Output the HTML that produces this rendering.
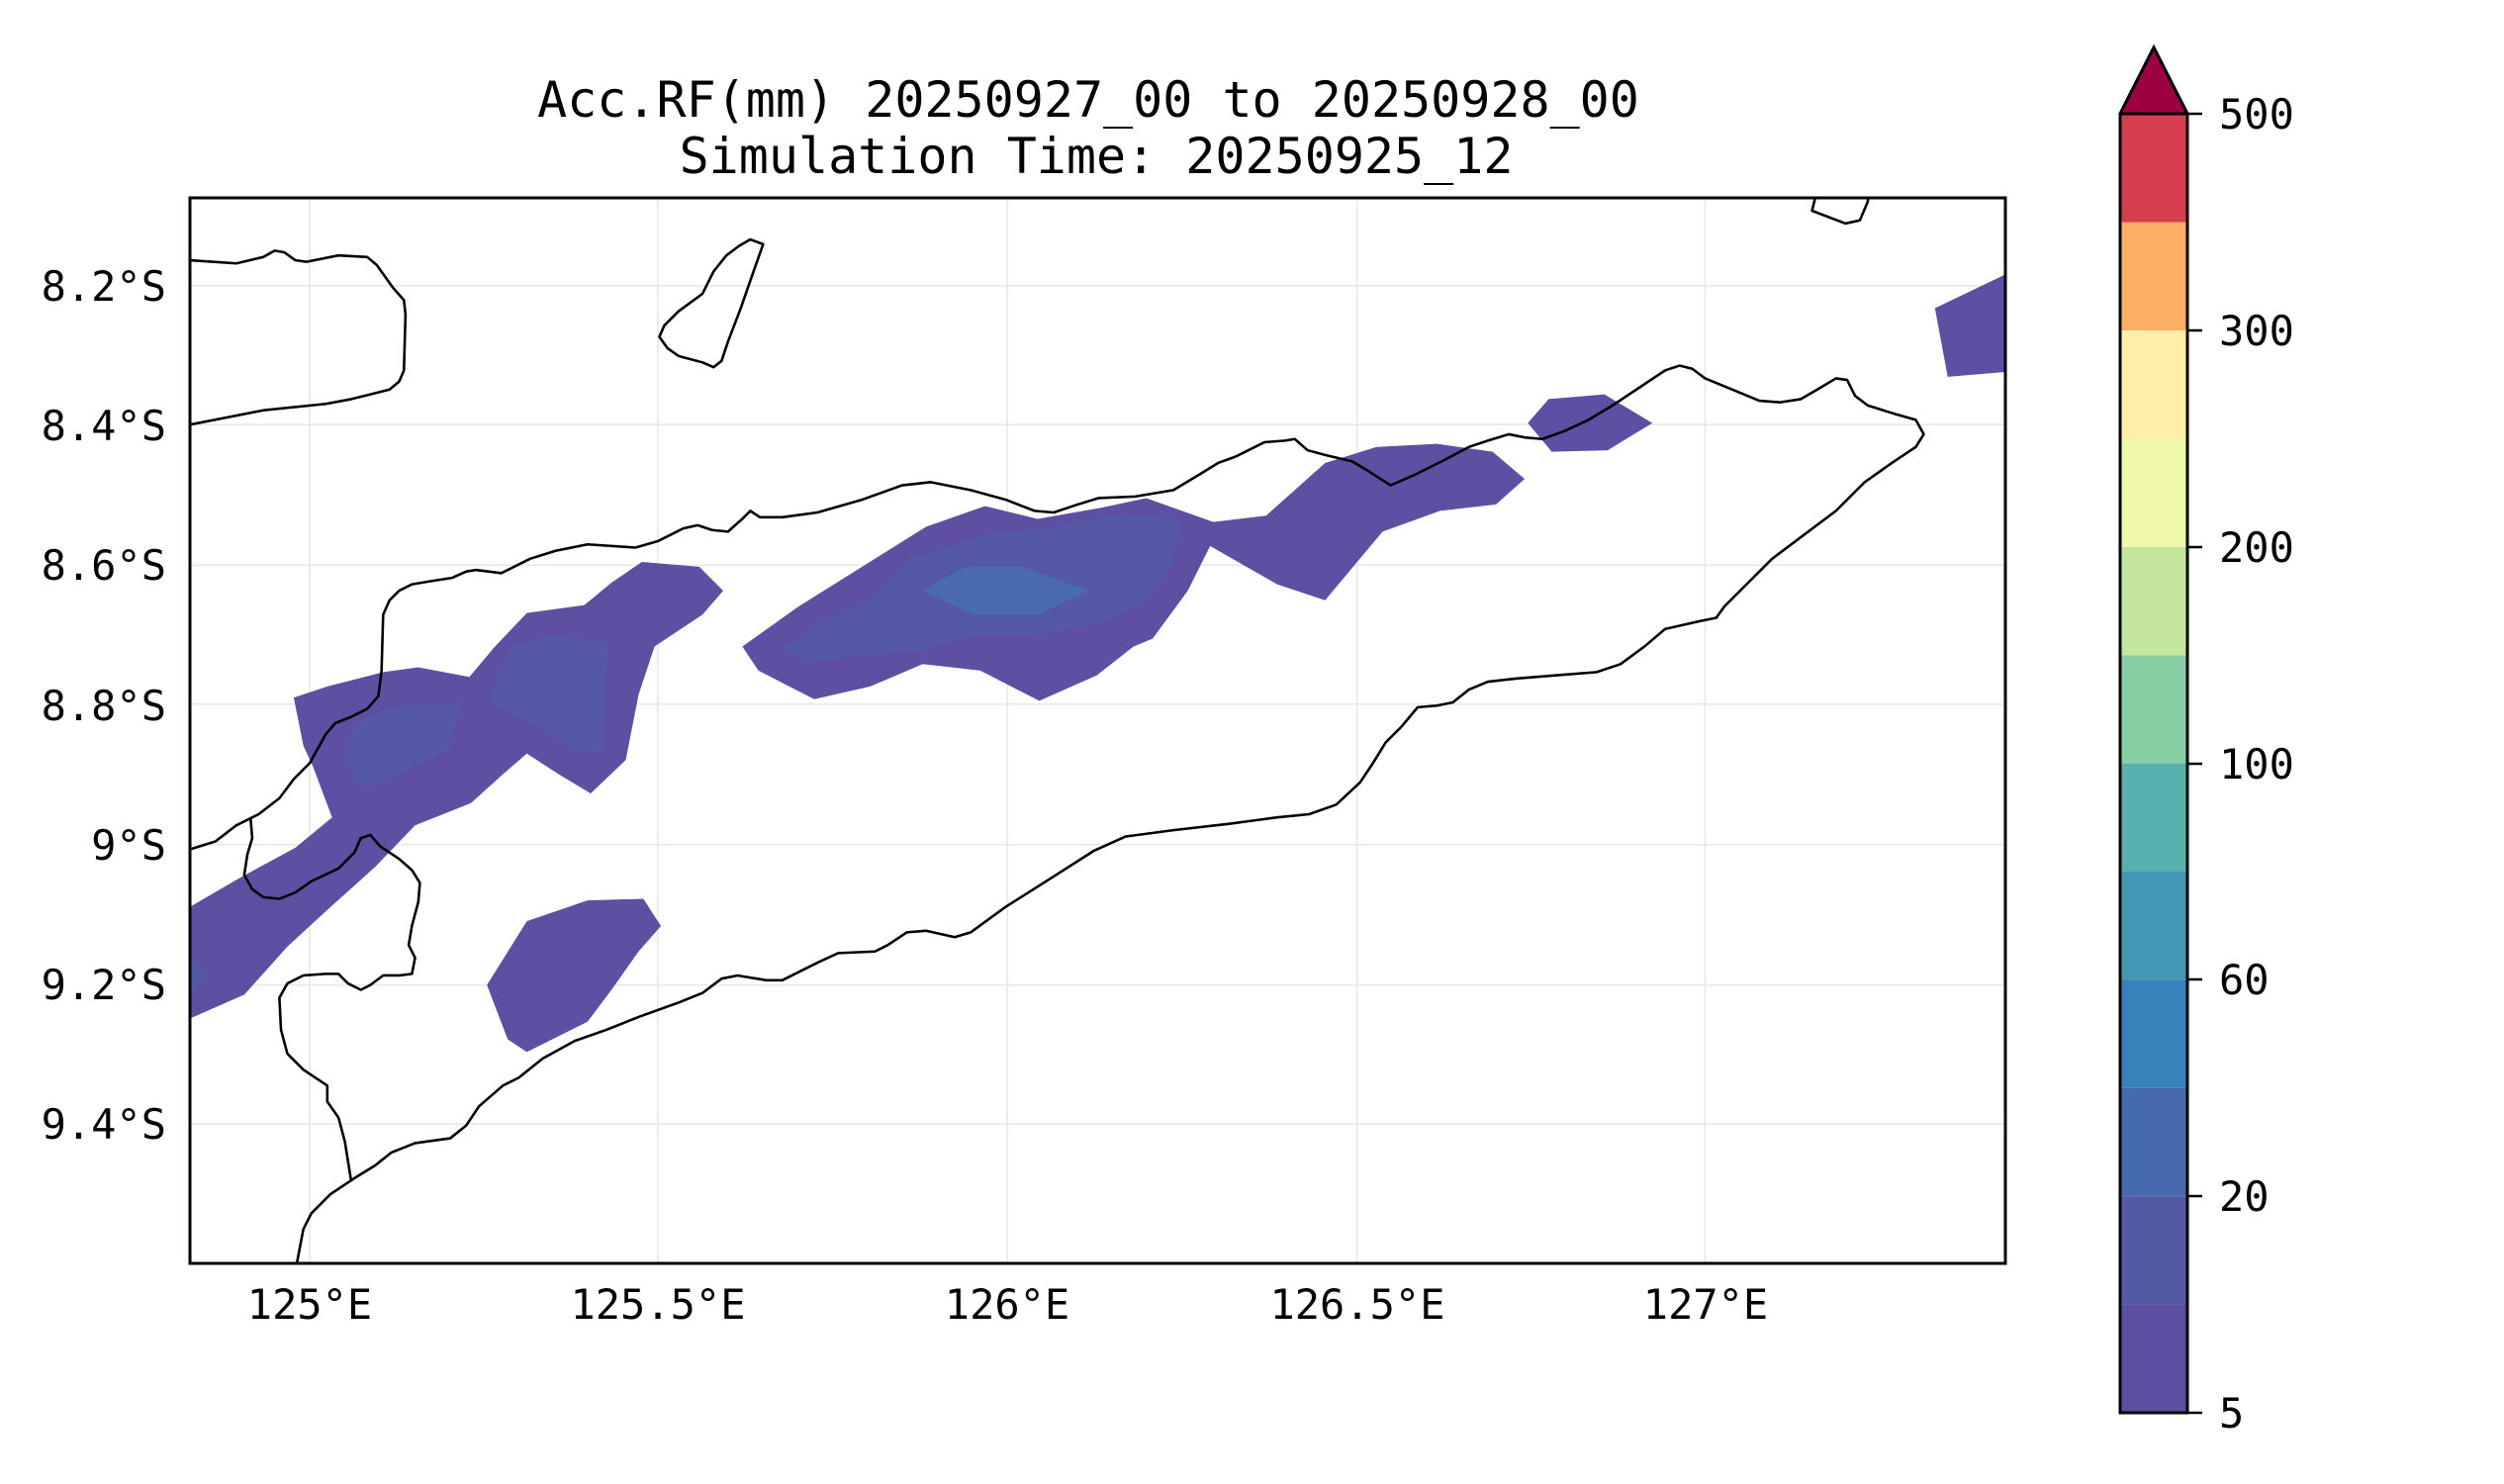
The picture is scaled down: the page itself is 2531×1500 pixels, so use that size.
<!DOCTYPE html>
<html><head><meta charset="utf-8"><style>html,body{margin:0;padding:0;background:#fff}svg{display:block}text{font-family:"DejaVu Sans Mono","Liberation Mono",monospace;fill:#000}</style></head>
<body>
<svg width="2531" height="1500" viewBox="0 0 2531 1500" xmlns="http://www.w3.org/2000/svg">
<defs><clipPath id="c"><rect x="119" y="124" width="1137" height="667"/></clipPath></defs>
<text x="1100" y="118" font-size="50" text-anchor="middle">Acc.RF(mm) 20250927_00 to 20250928_00</text>
<text x="1108" y="175" font-size="50" text-anchor="middle">Simulation Time: 20250925_12</text>
<g transform="scale(1.6137)">
<g clip-path="url(#c)">
<g stroke="#e8e8e8" stroke-width="1" vector-effect="non-scaling-stroke">
<line x1="119" x2="1256" y1="179" y2="179"/><line x1="119" x2="1256" y1="266" y2="266"/><line x1="119" x2="1256" y1="354" y2="354"/><line x1="119" x2="1256" y1="441" y2="441"/><line x1="119" x2="1256" y1="529" y2="529"/><line x1="119" x2="1256" y1="617" y2="617"/><line x1="119" x2="1256" y1="704" y2="704"/>
<line y1="124" y2="791" x1="194" x2="194"/><line y1="124" y2="791" x1="412" x2="412"/><line y1="124" y2="791" x1="631" x2="631"/><line y1="124" y2="791" x1="850" x2="850"/><line y1="124" y2="791" x1="1068" x2="1068"/>
</g>
<g fill="#5e4fa2">
<polygon points="119,568 150,550 185,531 208,512 196,480 190,467 184,437 205,430 240,421 262,418 294,424 310,405 330,384 366,379 383,365 402,352 438,355 453,370 440,385 425,395 410,405 400,435 392,476 370,497 350,485 330,472 315,485 295,503 260,517 235,543 205,570 180,593 153,623 119,638"/>
<polygon points="305,617 330,577 368,564 403,563 414,580 400,596 383,620 368,640 330,659 318,651"/>
<polygon points="465,405 500,380 540,355 580,330 617,317 650,325 690,318 718,312 760,327 793,323 830,290 862,280 900,278 935,283 955,300 937,316 902,320 866,333 830,376 800,366 758,342 744,370 722,400 710,405 687,423 651,439 614,420 578,416 545,430 510,438 475,420"/>
<polygon points="957,265 970,250 1005,247 1035,265 1007,282 972,283"/>
<polygon points="1212,193 1256,172 1256,233 1220,236"/>
</g>
<g fill="#5458a5">
<polygon points="215,475 222,455 240,445 265,440 290,440 280,470 255,482 228,495"/>
<polygon points="305,440 320,405 345,398 380,402 378,470 365,472 335,455"/>
<polygon points="490,405 515,390 545,375 570,350 617,335 660,330 700,322 740,325 736,350 720,375 690,390 650,398 610,398 575,408 545,410 505,415"/>
<polygon points="119,598 130,610 119,625"/>
</g>
<polygon fill="#4a6bae" points="578,370 605,355 640,355 682,370 650,385 610,385"/>
<g fill="none" stroke="#000" stroke-width="1.6" vector-effect="non-scaling-stroke" stroke-linejoin="round">
<polyline points="119,163 148,165 165,161 172,157 178,158 185,163 192,164 212,160 230,161 236,166 246,180 253,188 254,197 253,232 250,239 244,244 232,247 220,250 204,253 165,257 119,266"/>
<polygon points="478,153 470,150 463,154 455,160 447,170 440,184 425,195 416,204 413,211 418,218 425,223 440,227 447,230 452,226 456,214 464,193 472,170"/>
<polyline points="1137,124 1135,132 1156,140 1165,138 1170,126 1170,124"/>
<polyline points="119,532 135,527 148,517 162,510 175,500 184,488 194,478 204,460 210,453 220,449 230,444 237,436 239,420 240,385 244,376 250,370 258,366 270,364 283,362 292,358 298,357 314,359 320,356 332,350 348,345 368,341 398,343 412,339 428,331 437,329 446,332 456,333 465,325 470,320 476,324 490,324 512,321 540,313 565,304 583,302 608,307 630,313 648,320 660,321 675,316 688,312 711,311 735,307 750,298 763,290 774,286 782,282 792,277 805,276 811,275 819,282 830,285 847,289 857,295 871,304 887,297 905,288 920,280 932,276 945,272 955,274 966,275 980,270 995,263 1010,254 1025,244 1043,232 1052,229 1060,231 1068,237 1085,244 1102,251 1115,252 1128,250 1140,243 1150,237 1157,238 1162,248 1170,254 1186,259 1200,263 1205,272 1200,280 1185,290 1168,302 1150,320 1130,335 1110,350 1095,365 1080,380 1075,387 1065,389 1043,394 1030,405 1015,416 1000,421 975,423 950,425 932,427 920,432 910,440 900,442 888,443 878,455 868,465 860,478 852,490 837,504 820,510 800,512 770,516 735,520 705,524 685,533 660,549 630,568 608,584 598,587 580,583 568,584 556,592 548,596 525,597 512,603 490,614 480,614 462,611 452,613 440,622 425,628 400,637 380,645 360,652 340,663 325,675 315,680 300,693 292,705 282,713 260,716 245,722 235,730 222,738 207,748 195,760 190,770 186,791"/>
<polyline points="157,513 158,525 155,535 153,548 158,557 165,562 175,563 185,559 195,552 212,544 222,534 226,525 232,523 238,530 250,538 258,545 263,553 262,565 258,580 256,592 260,600 258,610 250,611 240,611 232,617 226,620 218,616 212,610 204,610 190,611 180,616 175,625 176,645 180,660 190,670 205,680 205,690 212,700 216,715 220,740"/>
</g>
</g>
</g>
<rect x="192" y="200" width="1835" height="1077" fill="none" stroke="#000" stroke-width="3"/>
<g font-size="42" text-anchor="end">
<text x="168" y="304">8.2°S</text><text x="168" y="445">8.4°S</text><text x="168" y="586">8.6°S</text><text x="168" y="728">8.8°S</text><text x="168" y="869">9°S</text><text x="168" y="1010">9.2°S</text><text x="168" y="1151">9.4°S</text>
</g>
<g font-size="42" text-anchor="middle">
<text x="313" y="1333">125°E</text><text x="665" y="1333">125.5°E</text><text x="1018" y="1333">126°E</text><text x="1372" y="1333">126.5°E</text><text x="1724" y="1333">127°E</text>
</g>
<g>
<rect x="2143" y="1318.6" width="68" height="109.4" fill="#5e4fa2"/>
<rect x="2143" y="1209.2" width="68" height="109.4" fill="#5459a4"/>
<rect x="2143" y="1099.8" width="68" height="109.4" fill="#4769ae"/>
<rect x="2143" y="990.4" width="68" height="109.4" fill="#3682ba"/>
<rect x="2143" y="881" width="68" height="109.4" fill="#4298b5"/>
<rect x="2143" y="771.6" width="68" height="109.4" fill="#59b1ad"/>
<rect x="2143" y="662.2" width="68" height="109.4" fill="#86cfa5"/>
<rect x="2143" y="552.8" width="68" height="109.4" fill="#c5e69e"/>
<rect x="2143" y="443.4" width="68" height="109.4" fill="#eff8a9"/>
<rect x="2143" y="334" width="68" height="109.4" fill="#ffefa8"/>
<rect x="2143" y="224.6" width="68" height="109.4" fill="#fdb065"/>
<rect x="2143" y="115" width="68" height="109.6" fill="#d53e4f"/>
<polygon points="2143,115 2143,1428 2211,1428 2211,115 2177,48" fill="none" stroke="#000" stroke-width="3"/>
<polygon points="2143,115 2177,48 2211,115" fill="#9e0142" stroke="#000" stroke-width="3" stroke-linejoin="round"/>
<g stroke="#000" stroke-width="2.5">
<line x1="2211" x2="2226" y1="115" y2="115"/><line x1="2211" x2="2226" y1="334" y2="334"/><line x1="2211" x2="2226" y1="553" y2="553"/><line x1="2211" x2="2226" y1="772" y2="772"/><line x1="2211" x2="2226" y1="990" y2="990"/><line x1="2211" x2="2226" y1="1209" y2="1209"/><line x1="2211" x2="2226" y1="1428" y2="1428"/>
</g>
<g font-size="42">
<text x="2243" y="130">500</text><text x="2243" y="349">300</text><text x="2243" y="568">200</text><text x="2243" y="787">100</text><text x="2243" y="1005">60</text><text x="2243" y="1224">20</text><text x="2243" y="1443">5</text>
</g>
</g>
</svg>
</body></html>
